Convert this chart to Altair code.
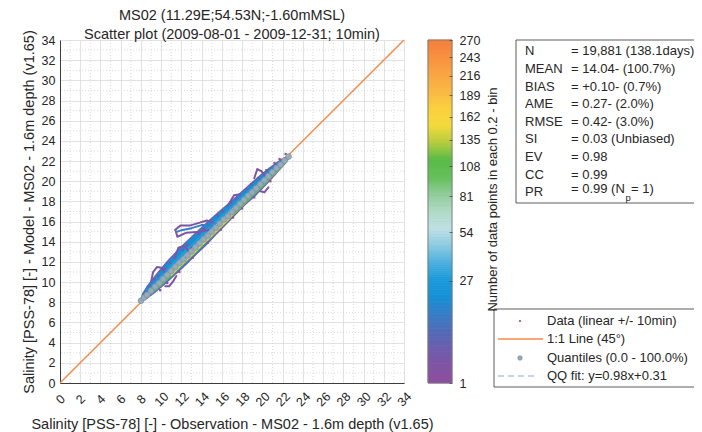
import altair as alt
import pandas as pd

FONT = "Liberation Sans"
TXT = "#262626"

# ---------------- texts ----------------
title_lines = ["MS02 (11.29E;54.53N;-1.60mMSL)",
               "Scatter plot  (2009-08-01 - 2009-12-31; 10min)"]
x_title = "Salinity [PSS-78] [-] - Observation - MS02 - 1.6m depth (v1.65)"
y_title = "Salinity [PSS-78] [-] - Model - MS02 - 1.6m depth (v1.65)"
cbar_title = "Number of data points in each 0.2 - bin"
axis_ticks = list(range(0, 35, 2))
minor_ticks = list(range(1, 34, 2))

# colour bar
cbar_ticks = [1, 27, 54, 81, 108, 135, 162, 189, 216, 243, 270]
cbar_levels = list(range(1, 270))
cbar_colors = ["#8b4f9f", "#7d55a6", "#6a5fae", "#4f6db8", "#357fc6", "#1690d6",
               "#1c9bda", "#4cb0de", "#8ccbe0", "#bfe0e3", "#b0d9c4", "#8fcc98",
               "#62be58", "#5bbb48", "#b4cb3e", "#f3da3b", "#fbd03e", "#fab843",
               "#f9a544", "#f79140", "#f57f3e"]

# statistics box
stat_names = ["N", "MEAN", "BIAS", "AME", "RMSE", "SI", "EV", "CC", "PR"]
stat_values = ["= 19,881 (138.1days)", "= 14.04- (100.7%)", "= +0.10- (0.7%)",
               "= 0.27- (2.0%)", "= 0.42- (3.0%)", "= 0.03 (Unbiased)",
               "= 0.98", "= 0.99", "= 0.99 (N"]
pr_sub = "p"
pr_tail = " = 1)"

# legend box
legend_labels = ["Data (linear +/- 10min)", "1:1 Line (45\u00b0)",
                 "Quantiles (0.0 - 100.0%)", "QQ fit: y=0.98x+0.31"]

# ---------------- data ----------------
ref_x = [0, 34]
ref_y = [0, 34]

# main scatter band (centre paths), widths in px
band_x = [8.0, 8.5, 9.0, 10.0, 11.0, 12.0, 13.0, 14.0, 15.0, 16.0, 17.0, 18.0, 19.0, 20.0, 21.0, 22.0, 22.7]
band_y_upper = [8.2, 8.75, 9.3, 10.35, 11.4, 12.4, 13.4, 14.35, 15.35, 16.3, 17.25, 18.2, 19.1, 20.05, 21.0, 21.9, 22.5]
band_y_core = [8.15, 8.65, 9.15, 10.1, 11.1, 12.1, 13.05, 14.05, 15.0, 16.0, 17.0, 17.95, 18.95, 19.9, 20.9, 21.85, 22.5]
band_y_low = [8.0, 8.4, 8.85, 9.75, 10.7, 11.7, 12.65, 13.65, 14.6, 15.6, 16.6, 17.55, 18.55, 19.5, 20.5, 21.5, 22.3]
outer_w = [3, 8, 11, 14, 16, 17, 17, 17, 16, 15, 14, 13, 13, 12, 10, 7, 3]
blue_w = [2, 7, 10, 12, 14, 15, 15, 15, 14, 13, 12, 11, 11, 10, 8, 5, 2]
ltblue_w = [1, 3, 4, 5, 6, 6, 6, 6, 6, 6, 5, 5, 5, 4, 4, 2, 1]
cyan_w = [0.5, 1.5, 3, 4, 4.5, 4.5, 4.5, 4.5, 4.5, 4, 4, 4, 3.5, 3, 2.5, 1.5, 0.5]
green_w = [0.5, 1, 1.5, 2, 2.5, 2.5, 2.5, 2.5, 2.5, 2.5, 2.5, 2, 2, 2, 1.5, 1, 0.5]
level_counts = {"outer": 2, "blue": 19, "ltblue": 28, "cyan": 48, "green": 105}

yellow_x = [11.0, 12.0, 13.0, 14.0, 15.0, 16.0, 17.0]
yellow_y = [10.7, 11.7, 12.65, 13.65, 14.6, 15.6, 16.6]
yellow_count = 175

# excursions off the main band
exc = {
    "e1": ([15.2, 14.5, 13.5, 12.8, 11.9, 11.4], [15.9, 16.1, 15.8, 15.6, 15.6, 15.2]),
    "e2": ([11.4, 11.6, 12.5, 13.8, 14.8], [15.2, 14.5, 14.9, 15.0, 15.2]),
    "e3": ([11.4, 11.7, 12.3, 12.8, 13.0], [12.6, 13.4, 13.6, 13.0, 13.4]),
    "e4": ([9.0, 9.2, 9.6, 10.1, 10.3], [10.0, 11.0, 11.5, 11.4, 11.0]),
    "e5": ([10.4, 10.8, 11.2, 11.5], [9.6, 9.6, 10.1, 10.6]),
    "e6": ([19.2, 19.5, 19.9, 20.2], [20.3, 21.2, 21.0, 20.6]),
    "e7": ([19.8, 20.2, 20.6], [19.0, 18.9, 19.4]),
    "e8": ([16.6, 17.2, 17.8], [17.6, 18.6, 18.7]),
}
exc_count = 3
tongue_x = [15.0, 14.0, 13.0, 12.0, 11.6]
tongue_y = [15.6, 15.65, 15.35, 15.15, 15.0]
tongue_count = 14

edge_x = [8.4, 8.8, 9.3, 9.7, 10.4, 10.9, 11.3, 12.1, 12.6, 13.7, 14.2, 15.6, 16.1, 16.9, 17.4, 18.4,
          18.9, 19.6, 20.4, 21.2, 21.7, 22.3, 9.9, 10.6, 11.8, 13.1, 14.6, 15.9, 17.1, 18.0, 19.2, 20.8]
edge_y = [9.0, 9.6, 10.3, 10.6, 11.3, 11.9, 12.4, 13.2, 13.7, 14.8, 15.3, 16.6, 17.0, 17.9, 18.3, 19.2,
          19.7, 20.3, 21.1, 21.8, 22.2, 22.7, 9.2, 9.9, 11.0, 12.4, 13.9, 15.2, 16.4, 17.3, 18.4, 20.0]
edge_count = 1

q_obs = [8.0, 8.3, 8.6, 9.0, 9.4, 9.8, 10.2, 10.6, 11.0, 11.4, 11.8, 12.2, 12.6, 13.0, 13.4, 13.8, 14.2, 14.6, 15.0,
         15.4, 15.8, 16.2, 16.6, 17.0, 17.4, 17.8, 18.2, 18.6, 19.0, 19.4, 19.8, 20.2, 20.6, 21.0, 21.4, 21.8, 22.2, 22.6]
q_mod = [8.15, 8.45, 8.75, 9.15, 9.55, 9.9, 10.3, 10.7, 11.1, 11.5, 11.9, 12.25, 12.65, 13.05, 13.45, 13.85, 14.25, 14.6, 15.0,
         15.4, 15.8, 16.2, 16.55, 16.95, 17.35, 17.75, 18.15, 18.55, 18.9, 19.3, 19.7, 20.1, 20.5, 20.9, 21.3, 21.65, 22.05, 22.45]
fit_x = [8.0, 22.6]
fit_y = [8.15, 22.46]

# ---------------- tables ----------------
rows = []
for name, ys_, ws_ in [("outer", band_y_upper, outer_w), ("blue", band_y_upper, blue_w),
                       ("ltblue", band_y_upper, ltblue_w), ("cyan", band_y_core, cyan_w),
                       ("green", band_y_low, green_w)]:
    for i, (xv, yv, wv) in enumerate(zip(band_x, ys_, ws_)):
        rows.append(dict(series=name, i=i, x=xv, y=yv, w=wv, count=level_counts[name]))
for i, (xv, yv) in enumerate(zip(yellow_x, yellow_y)):
    rows.append(dict(series="yellow", i=i, x=xv, y=yv, w=1.5, count=yellow_count))
for k, (xs_, ys_) in exc.items():
    for i, (xv, yv) in enumerate(zip(xs_, ys_)):
        rows.append(dict(series=k, i=i, x=xv, y=yv, w=2, count=exc_count))
for i, (xv, yv) in enumerate(zip(tongue_x, tongue_y)):
    rows.append(dict(series="tongue", i=i, x=xv, y=yv, w=2, count=tongue_count))
band_df = pd.DataFrame(rows)

edge_df = pd.DataFrame({"x": edge_x, "y": edge_y, "count": [edge_count] * len(edge_x)})
q_df = pd.DataFrame({"x": q_obs, "y": q_mod})
fit_df = pd.DataFrame({"x": fit_x, "y": fit_y})
ref_df = pd.DataFrame({"x": ref_x, "y": ref_y})
cbar_df = pd.DataFrame({"v": cbar_levels})

# ---------------- scales / axes ----------------
xs = alt.Scale(domain=[0, 34], nice=False, zero=False)
ys = alt.Scale(domain=[0, 34], nice=False, zero=False)
common_axis = dict(values=axis_ticks, ticks=False, grid=True, gridColor="#dadada", gridWidth=0.8,
                   domainColor="#3c3c3c", domainWidth=1, labelFont=FONT, labelFontSize=12.5,
                   labelColor=TXT, titleFont=FONT, titleFontSize=14.5, titleFontWeight="normal",
                   titleColor=TXT, labelFlush=False, labelOverlap=False)
xaxis = alt.Axis(title=x_title, labelAngle=315, labelAlign="center", labelBaseline="middle",
                 labelPadding=16, titleX=172, titleY=41, titleBaseline="middle", **common_axis)
yaxis = alt.Axis(title=y_title, labelPadding=5, titleX=-31, titleY=171.5, titleAngle=270,
                 titleBaseline="middle", titleAlign="center", orient="left", **common_axis)

cscale = alt.Scale(type="pow", exponent=0.45, domain=[1, 270], range=cbar_colors, interpolate="rgb")


def X(f="x:Q"):
    return alt.X(f, scale=xs, axis=xaxis)


def Y(f="y:Q"):
    return alt.Y(f, scale=ys, axis=yaxis)


def C(f="count:Q"):
    return alt.Color(f, scale=cscale, legend=None)


layers = []

# minor dotted grid
layers.append(alt.Chart(pd.DataFrame({"v": minor_ticks})).mark_rule(
    color="#d2d2d2", strokeDash=[1, 2], strokeWidth=0.8).encode(x=alt.X("v:Q", scale=xs, axis=xaxis)))
layers.append(alt.Chart(pd.DataFrame({"v": minor_ticks})).mark_rule(
    color="#d2d2d2", strokeDash=[1, 2], strokeWidth=0.8).encode(y=alt.Y("v:Q", scale=ys, axis=yaxis)))

# 1:1 line
layers.append(alt.Chart(ref_df).mark_line(color="#f7894a", strokeWidth=1.5).encode(x=X(), y=Y()))

# band trails
for name in ["outer", "blue", "ltblue", "cyan", "green", "yellow",
             "e1", "e2", "e3", "e4", "e5", "e6", "e7", "e8", "tongue"]:
    layers.append(alt.Chart(band_df).transform_filter(alt.datum.series == name).mark_trail().encode(
        x=X(), y=Y(), color=C(), size=alt.Size("w:Q", scale=None, legend=None),
        order=alt.Order("i:Q")))

# scattered single points at edges
layers.append(alt.Chart(edge_df).mark_square(size=5, opacity=1).encode(x=X(), y=Y(), color=C()))

# QQ fit and quantiles
layers.append(alt.Chart(fit_df).mark_line(color="#b7c6d4", strokeDash=[6, 4], strokeWidth=1.3).encode(x=X(), y=Y()))
layers.append(alt.Chart(q_df).mark_point(shape="circle", filled=True, size=32, fill="#9aabb8",
                                         stroke="#7f96a8", strokeWidth=0.8, opacity=1).encode(x=X(), y=Y()))


def txt(s, x, y, size=13, align="left", angle=0):
    return alt.Chart(pd.DataFrame({"t": [s]})).mark_text(
        font=FONT, fontSize=size, align=align, baseline="middle", angle=angle, color=TXT
    ).encode(x=alt.value(x), y=alt.value(y), text=alt.Text("t:N"))


def box(x1, y1, x2, y2, fill="white", stroke="#4a4a4a"):
    return alt.Chart(pd.DataFrame({"t": [0]})).mark_rect(
        fill=fill, stroke=stroke, strokeWidth=0.9).encode(
        x=alt.value(x1), x2=alt.value(x2), y=alt.value(y1), y2=alt.value(y2))


# statistics box
layers.append(box(456, 0, 640, 163))
for k, (nm, val) in enumerate(zip(stat_names, stat_values)):
    yy = 11.4 + 17.6 * k
    layers.append(txt(nm, 465, yy))
    layers.append(txt(val, 511, yy - (3 if nm == "PR" else 0)))
layers.append(txt(pr_sub, 565.5, 158, size=9.5))
layers.append(txt(pr_tail, 571, 149))

# legend box
layers.append(box(434, 269, 640, 347))
layers.append(alt.Chart(pd.DataFrame({"t": [0]})).mark_point(
    shape="circle", filled=True, size=5, color="#8b4f9f", opacity=1).encode(x=alt.value(460), y=alt.value(281)))
layers.append(alt.Chart(pd.DataFrame({"t": [0]})).mark_rule(color="#f7894a", strokeWidth=1.5).encode(
    x=alt.value(438), x2=alt.value(483), y=alt.value(299)))
layers.append(alt.Chart(pd.DataFrame({"t": [0]})).mark_point(
    shape="circle", filled=True, size=20, fill="#9aabb8", stroke="#7f96a8", strokeWidth=0.8, opacity=1).encode(
    x=alt.value(460), y=alt.value(318)))
layers.append(alt.Chart(pd.DataFrame({"t": [0]})).mark_rule(color="#b7c6d4", strokeWidth=1.3, strokeDash=[6, 4]).encode(
    x=alt.value(438), x2=alt.value(478), y=alt.value(336)))
for k, lab in enumerate(legend_labels):
    layers.append(txt(lab, 487, [281, 299, 318, 336][k]))

# colour bar frame (drawn in the main layer, pixel placed)
layers.append(box(368, 0, 392, 343, fill="transparent", stroke="#7a7a7a"))

main = alt.layer(*layers)

# ---------------- colour bar (independent y scale, right axis) ----------------
cb_scale = alt.Scale(type="pow", exponent=0.45, domain=[1, 270], nice=False, zero=False)
cb_axis = alt.Axis(orient="right", offset=45, values=cbar_ticks, ticks=True, tickSize=3,
                   tickColor="#4a4a4a", tickWidth=0.8, domain=False, grid=False,
                   labelPadding=7, labelFont=FONT, labelFontSize=12.5, labelColor=TXT,
                   labelFlush=False, labelOverlap=False, zindex=2,
                   title=cbar_title, titleFont=FONT, titleFontSize=13, titleFontWeight="normal",
                   titleColor=TXT, titleAngle=270, titleX=43, titleY=159, titleBaseline="middle",
                   titleAlign="center")
cb_cells = alt.Chart(cbar_df).transform_calculate(v2="datum.v + 1").mark_rect(strokeWidth=0.8).encode(
    x=alt.value(368), x2=alt.value(392),
    y=alt.Y("v:Q", scale=cb_scale, axis=cb_axis), y2="v2:Q",
    color=C("v:Q"),
    stroke=alt.Stroke("v:Q", scale=cscale, legend=None))

chart = alt.layer(cb_cells, main).resolve_scale(y="independent").properties(
    width=344, height=343,
    title=alt.TitleParams(text=title_lines, font=FONT, fontSize=14.5, fontWeight="normal", color=TXT,
                          anchor="middle", lineHeight=19, offset=1, dy=14),
    autosize=alt.AutoSizeParams(type="none"),
    padding={"left": 52, "top": 32, "right": 290, "bottom": 49},
).configure_view(stroke=None)

chart.save("out.html", embed_options={"renderer": "svg", "actions": False})
